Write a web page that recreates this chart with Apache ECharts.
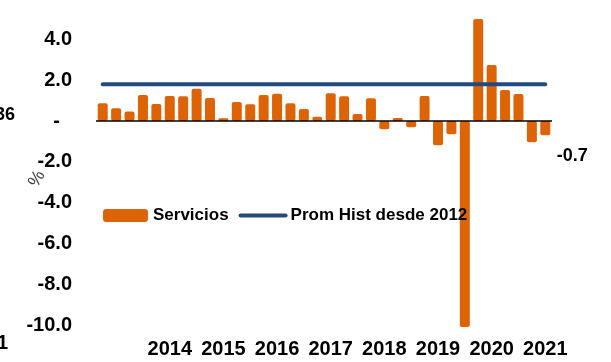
<!DOCTYPE html>
<html>
<head>
<meta charset="utf-8">
<script src="https://cdn.jsdelivr.net/npm/echarts@6/dist/echarts.min.js"></script>
<style>
  html, body { margin: 0; padding: 0; background: #ffffff; }
  #chart { width: 611px; height: 362px; }
</style>
</head>
<body>
<div id="chart"></div>
<script>
// Quarterly growth of services (%), with the historical average since 2012
const quarters = [
  '2013T3', '2013T4',
  '2014T1', '2014T2', '2014T3', '2014T4',
  '2015T1', '2015T2', '2015T3', '2015T4',
  '2016T1', '2016T2', '2016T3', '2016T4',
  '2017T1', '2017T2', '2017T3', '2017T4',
  '2018T1', '2018T2', '2018T3', '2018T4',
  '2019T1', '2019T2', '2019T3', '2019T4',
  '2020T1', '2020T2', '2020T3', '2020T4',
  '2021T1', '2021T2', '2021T3', '2021T4'
];
const servicios = [
  0.87, 0.62,
  0.46, 1.27, 0.83, 1.23,
  1.21, 1.58, 1.13, 0.13,
  0.93, 0.82, 1.27, 1.34,
  0.87, 0.59, 0.21, 1.36,
  1.21, 0.34, 1.11, -0.41,
  0.15, -0.31, 1.23, -1.19,
  -0.65, -10.1, 5.0, 2.75,
  1.52, 1.32, -1.04, -0.7
];
const promHist = 1.8;
const yearTicks = ['2014', '2015', '2016', '2017', '2018', '2019', '2020', '2021'];

const FONT = 'Liberation Sans, Arial, sans-serif';
const ORANGE = '#dc6406';
const BLUE = '#24497c';

const chart = echarts.init(document.getElementById('chart'), null, { renderer: 'canvas' });
const lastIdx = servicios.length - 1;

chart.setOption({
  animation: false,
  backgroundColor: '#ffffff',
  textStyle: { fontFamily: FONT },
  grid: { left: 96, right: 59, top: 19, bottom: 37, containLabel: false, outerBoundsMode: 'none' },
  legend: {
    left: 98,
    top: 202,
    itemWidth: 45,
    itemHeight: 13,
    itemGap: 10,
    textStyle: { fontFamily: FONT, fontSize: 17, fontWeight: 'bold', color: '#000' },
    data: [
      'Servicios',
      {
        name: 'Prom Hist desde 2012',
        itemStyle: { opacity: 0 },
        lineStyle: { color: BLUE, width: 4, cap: 'round' }
      }
    ]
  },
  xAxis: {
    type: 'category',
    data: quarters,
    position: 'bottom',
    boundaryGap: true,
    axisLine: { show: false, onZero: false },
    axisTick: { show: false },
    splitLine: { show: false },
    axisLabel: {
      margin: 14,
      fontFamily: FONT,
      fontSize: 20,
      fontWeight: 'bold',
      color: '#000',
      interval: (idx, value) => value.endsWith('T4') && yearTicks.includes(value.slice(0, 4)),
      formatter: value => value.slice(0, 4)
    }
  },
  yAxis: {
    type: 'value',
    min: -10,
    max: 5,
    interval: 2,
    name: '%',
    nameLocation: 'middle',
    nameGap: 55,
    nameRotate: 60,
    nameMoveOverlap: false,
    nameTextStyle: { fontFamily: FONT, fontSize: 18, color: '#404040' },
    axisLine: { show: false },
    axisTick: { show: false },
    splitLine: { show: false },
    axisLabel: {
      margin: 24,
      showMaxLabel: false,
      fontFamily: FONT,
      fontSize: 20,
      fontWeight: 'bold',
      color: '#000',
      formatter: v => (v === 0 ? '{z|-}' : (v > 4 ? '' : v.toFixed(1))),
      rich: {
        z: { fontFamily: FONT, fontSize: 20, fontWeight: 'bold', color: '#000', padding: [0, 12, 0, 0] }
      }
    }
  },
  graphic: [
    {
      type: 'text', left: -5, top: 106, silent: true,
      style: { text: '36', font: 'bold 18px ' + FONT, fill: '#000' }
    },
    {
      type: 'text', left: -3, top: 333, silent: true,
      style: { text: '1', font: 'bold 20px ' + FONT, fill: '#000' }
    }
  ],
  series: [
    {
      name: 'Servicios',
      type: 'bar',
      data: servicios,
      barWidth: 10,
      clip: false,
      z: 2,
      itemStyle: { color: ORANGE, borderRadius: 2 },
      markLine: {
        silent: true,
        symbol: ['none', 'none'],
        label: { show: false },
        lineStyle: { color: '#000', width: 1.5, type: 'solid' },
        data: [{ yAxis: 0 }]
      },
      markPoint: {
        silent: true,
        symbol: 'circle',
        symbolSize: 0,
        itemStyle: { color: 'transparent' },
        label: {
          show: true,
          position: 'inside',
          offset: [27, 21],
          fontFamily: FONT,
          fontSize: 18,
          fontWeight: 'bold',
          color: '#000',
          formatter: p => p.value.toFixed(1)
        },
        data: [{ coord: [quarters[lastIdx], servicios[lastIdx]], value: servicios[lastIdx] }]
      }
    },
    {
      name: 'Prom Hist desde 2012',
      type: 'line',
      data: quarters.map(() => promHist),
      symbol: 'none',
      z: 3,
      itemStyle: { color: BLUE },
      lineStyle: { color: BLUE, width: 4, cap: 'round' }
    }
  ]
});
</script>
</body>
</html>
